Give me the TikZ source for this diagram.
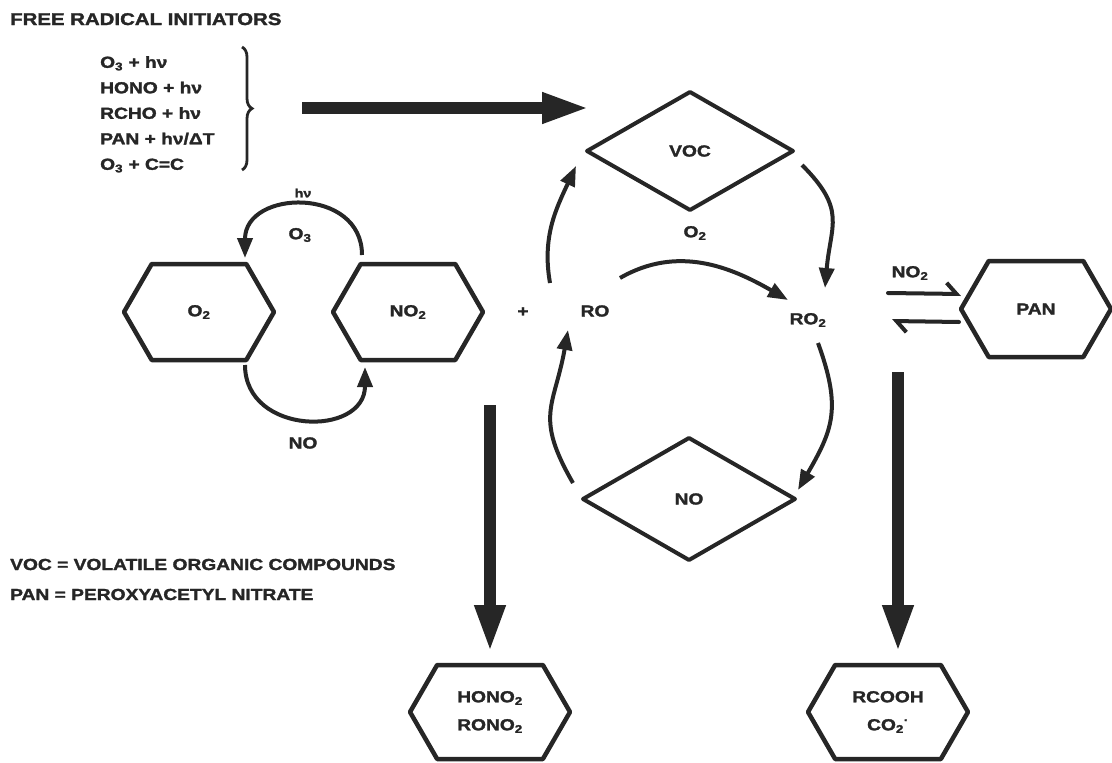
\documentclass[tikz,border=0pt]{standalone}
\usepackage{fontspec}
\setmainfont[FakeStretch=1.2,BoldFeatures={FakeBold=1.8}]{Liberation Sans}
\usetikzlibrary{arrows.meta,calc,shapes.geometric,shapes.symbols,decorations.pathreplacing}
\definecolor{InkClr}{RGB}{38,38,38}

\begin{document}
\begin{tikzpicture}[x=1pt,y=-1pt,
  lbl/.style={font=\fontsize{16}{19}\selectfont\bfseries,inner sep=0pt,text=InkClr},
  hexbox/.style={lbl,draw=InkClr,line width=4.5pt,line join=round,outer sep=0pt,
    shape=signal,signal to=east and west,signal pointer angle=120,
    minimum width=150pt,minimum height=96pt},
  diabox/.style={lbl,draw=InkClr,line width=4pt,line join=round,outer sep=0pt,
    shape=diamond,minimum width=206pt,minimum height=118pt},
  cyc/.style={draw=InkClr,line width=4pt,-{Triangle[length=20pt,width=15pt]}},
  bigarr/.style={draw=InkClr,line width=12pt,-{Triangle[length=48pt,width=28pt]}},
  eqarr/.style={draw=InkClr,line width=4pt,line cap=round,
    -{Straight Barb[harpoon,length=10pt,width=22pt]}}]
\useasboundingbox (0,0) rectangle (1112,763);

% Initiators and key.
\node[lbl,anchor=base west,font=\fontsize{17}{20}\selectfont\bfseries] (Title) at (10,25) {FREE RADICAL INITIATORS};
\node[lbl,anchor=north west,align=left,font=\fontsize{16}{25.5}\selectfont\bfseries] (InitList) at (100,56)
  {O\textsubscript{3} + hν\\HONO + hν\\RCHO + hν\\PAN + hν/ΔT\\O\textsubscript{3} + C=C};
\draw[InkClr,line width=2.8pt,decorate,decoration={brace,amplitude=10pt}] (242,47) -- (242,170);
\node[lbl,anchor=base west] (VocKey) at (10,570) {VOC = VOLATILE ORGANIC COMPOUNDS};
\node[lbl,anchor=base west] (PanKey) at (10,600) {PAN = PEROXYACETYL NITRATE};

% Boxes.
\node[hexbox] (O2box) at (199,312) {O\textsubscript{2}};
\node[hexbox] (NO2box) at (408,312) {NO\textsubscript{2}};
\node[hexbox] (PANbox) at (1036,309) {PAN};
\node[hexbox,minimum width=160pt,minimum height=94pt,align=center,font=\fontsize{16}{28}\selectfont\bfseries] (NitBox) at (490,712)
  {HONO\textsubscript{2}\\RONO\textsubscript{2}};
\node[hexbox,minimum width=160pt,minimum height=94pt,align=center,font=\fontsize{16}{28}\selectfont\bfseries] (AcidBox) at (888,712)
  {RCOOH\\CO\textsubscript{2}\textsuperscript{·}};
\node[diabox] (VOCbox) at (690,151) {VOC};
\node[diabox,minimum width=212pt,minimum height=122pt] (NObox) at (689,499) {NO};

% Labels.
\node[lbl] (RO) at (595,311) {RO};
\node[lbl] (RO2) at (808,320) {RO\textsubscript{2}};
\node[lbl] (Plus) at (523,312) {+};
\node[lbl] (O2lbl) at (695,233) {O\textsubscript{2}};
\node[lbl,font=\fontsize{12}{14}\selectfont\bfseries] (HvLbl) at (303,193) {hν};
\node[lbl] (O3lbl) at (300,235) {O\textsubscript{3}};
\node[lbl] (NOlbl) at (303,443) {NO};
\node[lbl] (NO2lbl) at (910,273) {NO\textsubscript{2}};

% Thick arrows.
\coordinate (InitTail) at (302,108);
\coordinate (InitHead) at (590,108);
\draw[bigarr] (InitTail) -- (InitHead);
\coordinate (NitTail) at (490,405);
\draw[bigarr,shorten >=12pt] (NitTail) -- (NitTail |- NitBox.north);
\coordinate (AcidTail) at (898,372);
\draw[bigarr,shorten >=12pt] (AcidTail) -- (AcidTail |- AcidBox.north);

% O2 / NO2 cycle.
\draw[cyc] ([xshift=-46pt,yshift=9pt]NO2box.north) to[out=90,in=90,looseness=1.5] ([xshift=46pt,yshift=6pt]O2box.north);
\draw[cyc] ([xshift=46pt,yshift=-5pt]O2box.south) to[out=-90,in=-90,looseness=1.5] ([xshift=-43pt,yshift=-7pt]NO2box.south);

% RO / RO2 cycle.
\draw[cyc] ([xshift=25pt,yshift=33pt]RO.center) to[out=30,in=150] ([xshift=-20pt,yshift=20pt]RO2.center);
\draw[cyc] ([xshift=112pt,yshift=-14pt]VOCbox.center) to[out=-45,in=85,looseness=1.3] ([xshift=17pt,yshift=32pt]RO2.center);
\draw[cyc] ([xshift=10pt,yshift=-23pt]RO2.center) to[out=-70,in=60,looseness=1.2] ([xshift=3pt,yshift=9pt]NObox.east);
\draw[cyc] ([xshift=-10pt,yshift=16pt]NObox.west) to[out=120,in=-100,looseness=1.3] ([xshift=-27pt,yshift=-19pt]RO.center);
\draw[cyc] ([xshift=-45pt,yshift=28pt]RO.center) to[out=100,in=-115] ([xshift=-11pt,yshift=-15pt]VOCbox.west);

% PAN equilibrium.
\coordinate (EqTail) at (888,308);
\draw[eqarr] ([yshift=15pt]EqTail) -- ([yshift=15pt]PANbox.west);
\draw[eqarr] ([xshift=-2pt,yshift=-13pt]PANbox.west) -- ([xshift=4pt,yshift=-13pt]EqTail);

\end{tikzpicture}
\end{document}
